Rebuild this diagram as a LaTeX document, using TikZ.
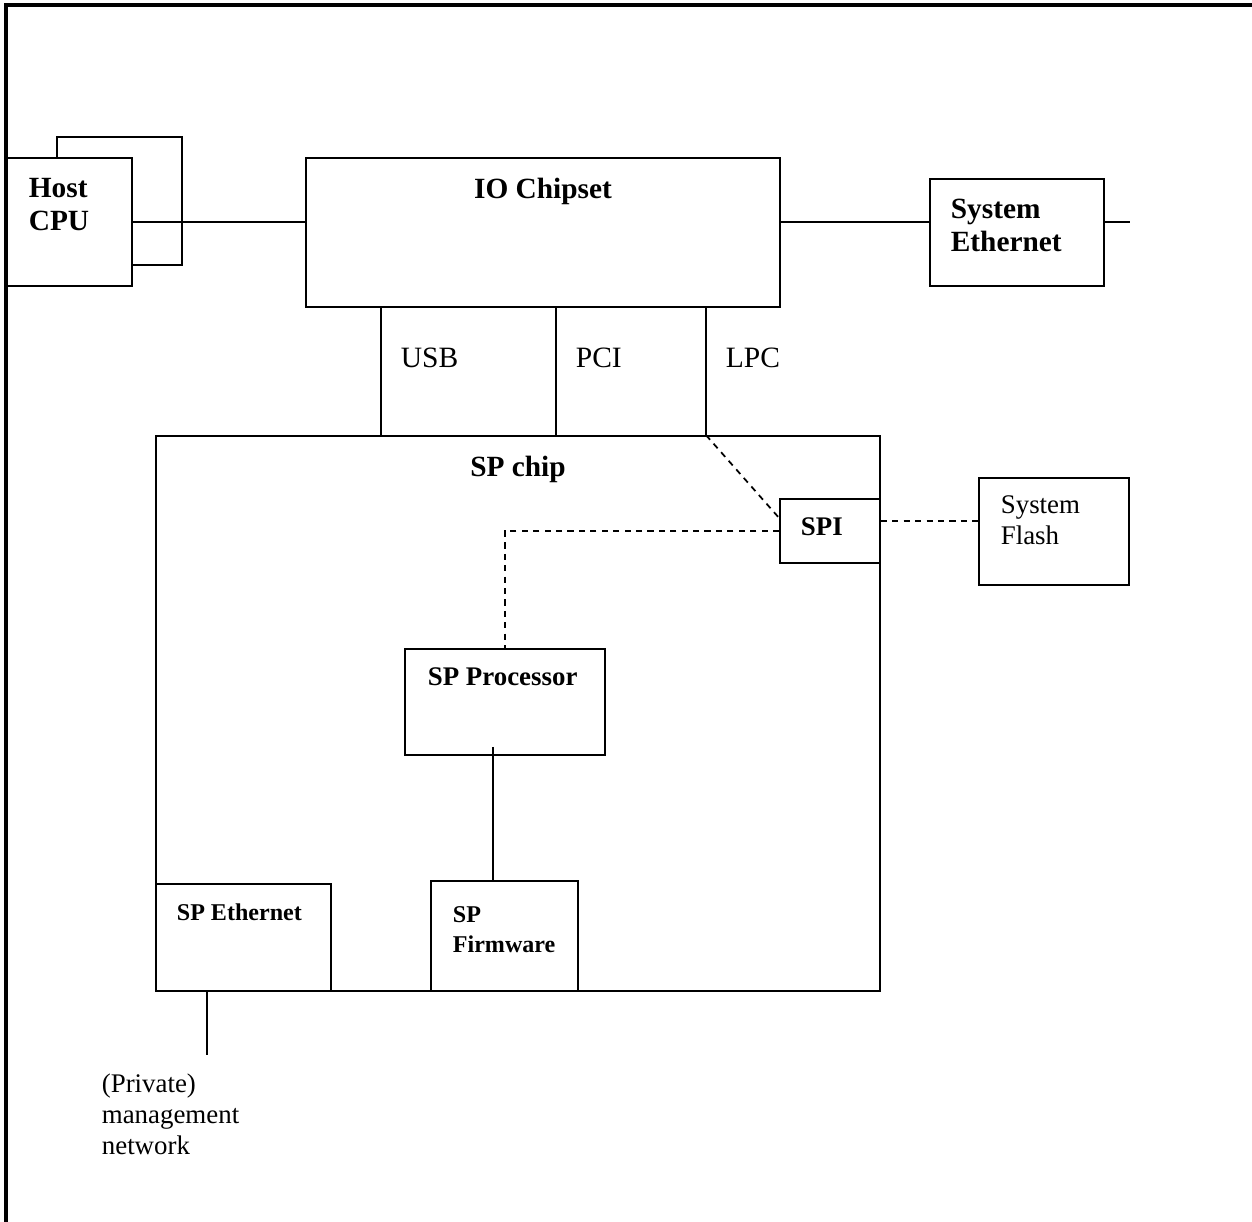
\documentclass[tikz,border=0pt]{standalone}
\usepackage{fontspec}
\setmainfont{Liberation Serif}
\usetikzlibrary{fit}

\begin{document}
\begin{tikzpicture}[x=0.02cm, y=-0.02cm, line width=1pt,
    box/.style={draw, inner sep=0pt, fill=white},
    lbl/.style={inner sep=0pt, font=\fontsize{16.7}{19}\selectfont\bfseries, align=left},
    mlbl/.style={inner sep=0pt, font=\fontsize{15.3}{18}\selectfont\bfseries, align=left},
    slbl/.style={inner sep=0pt, font=\fontsize{13.7}{17}\selectfont\bfseries, align=left},
    txt/.style={inner sep=0pt, font=\fontsize{15.3}{17.5}\selectfont, align=left},
    bustxt/.style={inner sep=0pt, font=\fontsize{16.8}{19}\selectfont},
    link/.style={dash pattern=on 3.5pt off 3pt}]
    \useasboundingbox (0,0) rectangle (1252,1222);
    % Frame
    \draw[line width=2.3pt] (6,1222) -- (6,5) -- (1252,5);
    % Host CPU (two stacked boxes)
    \node[box, fit={(57,137) (182,265)}] (hostback) {};
    \node[box, fit={(7,158) (132,286)}] (host) {};
    \node[lbl, anchor=north west] (hostlbl) at (28,177) {Host\\CPU};
    % IO Chipset
    \node[box, fit={(306,158) (780,307)}] (io) {};
    \node[lbl, anchor=north] (iolbl) at (543,177) {IO Chipset};
    % System Ethernet
    \node[box, fit={(930,179) (1104,286)}] (syseth) {};
    \node[lbl, anchor=north west] (sysethlbl) at (950,198) {System\\Ethernet};
    \coordinate (bus) at (0,222);
    \coordinate (uplink) at (1130,222);
    \draw (host.east) -- (host.east -| io.west);
    \draw (io.east |- bus) -- (syseth.west |- bus);
    \draw (syseth.east |- bus) -- (uplink);
    % SP chip
    \node[box, fill=none, fit={(156,436) (880,991)}] (sp) {};
    \node[lbl, anchor=north] (splbl) at (518,455) {SP chip};
    % USB, PCI, LPC
    \coordinate (usbx) at (381,0);
    \coordinate (pcix) at (556,0);
    \coordinate (lpcx) at (706,0);
    \draw (usbx |- io.south) -- (usbx |- sp.north);
    \draw (pcix |- io.south) -- (pcix |- sp.north);
    \draw (lpcx |- io.south) -- (lpcx |- sp.north);
    \node[bustxt, anchor=north west] (usblbl) at (400,347) {USB};
    \node[bustxt, anchor=north west] (pcilbl) at (575,347) {PCI};
    \node[bustxt, anchor=north west] (lpclbl) at (725,347) {LPC};
    % SPI and System Flash
    \node[box, fit={(780,499) (880,563)}] (spi) {};
    \node[mlbl, anchor=north west] (spilbl) at (800,517) {SPI};
    \node[box, fit={(979,478) (1129,585)}] (flash) {};
    \node[txt, anchor=north west] (flashlbl) at (1000,495) {System\\Flash};
    \draw[link] (lpcx |- sp.north) -- (spi.west |- 0,518);
    \draw[link] (spi.east |- 0,521) -- (flash.west |- 0,521);
    % SP Processor
    \node[box, fit={(405,649) (605,755)}] (proc) {};
    \node[mlbl, anchor=north west] (proclbl) at (427,667) {SP Processor};
    \draw[link] (spi.west) -| (proc.north);
    % SP Firmware
    \node[box, fit={(431,881) (578,991)}] (fw) {};
    \node[slbl, anchor=north west] (fwlbl) at (452,906) {SP\\Firmware};
    \coordinate (fwx) at (493,747);
    \draw (fwx) -- (fwx |- fw.north);
    % SP Ethernet
    \node[box, fit={(156,884) (331,991)}] (speth) {};
    \node[slbl, anchor=north west] (spethlbl) at (176,903) {SP Ethernet};
    \coordinate (netx) at (207,1055);
    \draw (netx |- speth.south) -- (netx);
    \node[txt, anchor=north west] (netlbl) at (101,1073) {(Private)\\management\\network};
\end{tikzpicture}
\end{document}
